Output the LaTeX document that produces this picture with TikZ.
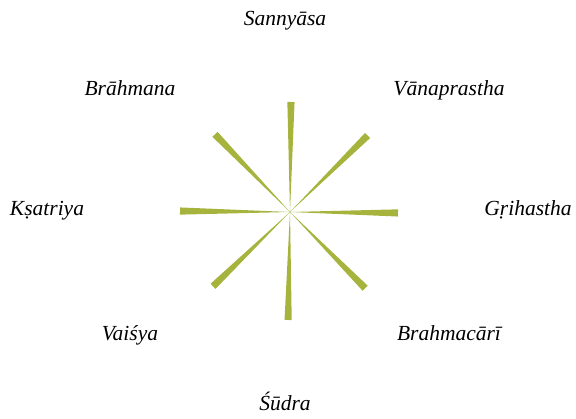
\documentclass[tikz,border=0pt]{standalone}
\usepackage{fontspec}
\setmainfont{Liberation Serif}
\definecolor{spoke}{RGB}{166,180,62}
\begin{document}
\begin{tikzpicture}[x=1pt,y=1pt,
  lbl/.style={font=\itshape\fontsize{21.5}{24}\selectfont, anchor=base, inner sep=0pt}]
\useasboundingbox (0,0) rectangle (576,418);
\coordinate (c) at (290,206);
\foreach \a/\r in {89.5/110, 44.6/109, -0.5/108, -45.4/107, -91/108, -136/107, 179.5/110, 134/108}{
  \fill[spoke, shift={(c)}, rotate=\a] (0,0) -- (\r,-3.6) -- (\r,3.6) -- cycle;
}
\node[lbl] (san) at (285,392) {Sannyāsa};
\node[lbl] (bra) at (130,322) {Brāhmana};
\node[lbl] (van) at (449,322) {Vānaprastha};
\node[lbl] (ksa) at (47,202) {Kṣatriya};
\node[lbl] (gri) at (528,202) {Gṛihastha};
\node[lbl] (vai) at (130,77) {Vaiśya};
\node[lbl] (bmc) at (449,77) {Brahmacārī};
\node[lbl] (sud) at (285,8) {Śūdra};
\end{tikzpicture}
\end{document}
